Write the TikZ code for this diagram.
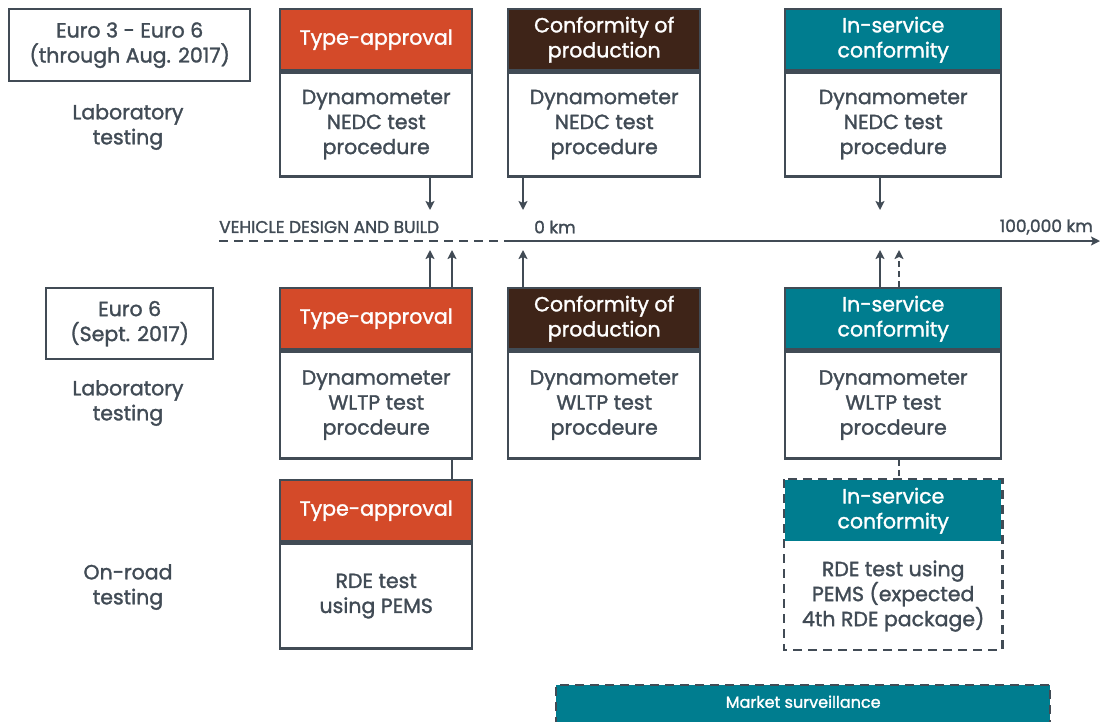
\documentclass[tikz,border=0pt]{standalone}
\usepackage{fontspec}
\setmainfont{Poppins}[FakeBold=1.5]
\usetikzlibrary{arrows.meta}

\definecolor{tacol}{RGB}{212,74,41}
\definecolor{copcol}{RGB}{62,36,24}
\definecolor{isccol}{RGB}{0,125,143}
\definecolor{inkgrey}{RGB}{65,75,85}

\begin{document}
\begin{tikzpicture}[x=1pt,y=-1pt,
            every node/.style={font=\fontsize{20.5}{25}\selectfont,text=inkgrey,align=center},
            arr/.style={draw=inkgrey,line width=1.8pt,-{Stealth[length=9pt,width=9pt,inset=2pt]}},
            dsh/.style={dash pattern=on 9pt off 6pt}]
            \tikzstyle{head}=[draw=inkgrey,line width=2.4pt,minimum height=61pt,text=white,inner sep=2pt]
            \tikzstyle{body}=[draw=inkgrey,line width=2.4pt,fill=white,minimum height=104pt,anchor=north,inner sep=2pt]
            \tikzstyle{era}=[draw=inkgrey,line width=2.4pt,anchor=north west]
            \tikzstyle{small}=[font=\fontsize{17}{19}\selectfont]
            \useasboundingbox (0,0) rectangle (1100,721);

            % row labels
            \node[era,minimum width=241pt,minimum height=72pt] (euro3) at (8,8) {Euro 3 - Euro 6\\(through Aug. 2017)};
            \node (lab1) at (128,127) {Laboratory\\testing};
            \node[era,minimum width=167pt,minimum height=71pt] (euro6) at (45,287) {Euro 6\\(Sept. 2017)};
            \node (lab2) at (128,403) {Laboratory\\testing};
            \node (road) at (128,587) {On-road\\testing};

            % NEDC row
            \node[head,fill=tacol,minimum width=192pt,anchor=north west] (tahead) at (279,8) {Type-approval};
            \node[body,minimum width=192pt] (tanedc) at (tahead.south) {Dynamometer\\NEDC test\\procedure};
            \node[head,fill=copcol,minimum width=192pt,anchor=north west] (cophead) at (507,8) {Conformity of\\production};
            \node[body,minimum width=192pt] (copnedc) at (cophead.south) {Dynamometer\\NEDC test\\procedure};
            \node[head,fill=isccol,minimum width=216pt,anchor=north west] (ischead) at (784,8) {In-service\\conformity};
            \node[body,minimum width=216pt] (iscnedc) at (ischead.south) {Dynamometer\\NEDC test\\procedure};

            % WLTP row
            \node[head,fill=tacol,minimum width=192pt,anchor=north west] (tahead2) at (279,287) {Type-approval};
            \node[body,minimum width=192pt,minimum height=107pt] (tawltp) at (tahead2.south) {Dynamometer\\WLTP test\\procdeure};
            \node[head,fill=copcol,minimum width=192pt,anchor=north west] (cophead2) at (507,287) {Conformity of\\production};
            \node[body,minimum width=192pt,minimum height=107pt] (copwltp) at (cophead2.south) {Dynamometer\\WLTP test\\procdeure};
            \node[head,fill=isccol,minimum width=216pt,anchor=north west] (ischead2) at (784,287) {In-service\\conformity};
            \node[body,minimum width=216pt,minimum height=107pt] (iscwltp) at (ischead2.south) {Dynamometer\\WLTP test\\procdeure};

            % RDE row
            \node[head,fill=tacol,minimum width=192pt,anchor=north west] (tahead3) at (279,479) {Type-approval};
            \node[body,minimum width=192pt,minimum height=105pt] (tarde) at (tahead3.south) {RDE test\\using PEMS};
            \node[head,draw=none,fill=isccol,minimum width=216pt,anchor=north west] (ischead3) at (784,479) {In-service\\conformity};
            \node[body,draw=none,minimum width=216pt,minimum height=105pt] (iscrde) at (ischead3.south) {RDE test using\\PEMS (expected\\4th RDE package)};
            \draw[inkgrey,line width=2.4pt,dsh] (ischead3.north west) rectangle (iscrde.south east);

            % timeline
            \coordinate (tstart) at (219,241);
            \coordinate (tzero) at (512,241);
            \coordinate (tend) at (1100,241);
            \draw[inkgrey,line width=1.8pt,dsh] (tstart) -- (tzero);
            \draw[arr] (tzero) -- (tend);
            \node[small,anchor=west,inner sep=0pt] (build) at (219,227) {VEHICLE DESIGN AND BUILD};
            \node[small,anchor=west,inner sep=0pt] (zerokm) at (534,227) {0 km};
            \node[small,anchor=east,inner sep=0pt] (maxkm) at (1093,227) {100,000 km};

            % arrows onto the timeline
            \coordinate (ta1) at (430,210);
            \coordinate (cop1) at (523,210);
            \coordinate (isc1) at (880,210);
            \coordinate (ta2) at (430,250);
            \coordinate (ta3) at (452,250);
            \coordinate (cop2) at (523,250);
            \coordinate (isc2) at (880,250);
            \coordinate (isc3) at (899,250);
            \draw[arr] (tanedc.south -| ta1) -- (ta1);
            \draw[arr] (copnedc.south -| cop1) -- (cop1);
            \draw[arr] (iscnedc.south -| isc1) -- (isc1);
            \draw[arr] (tahead2.north -| ta2) -- (ta2);
            \draw[arr] (tahead2.north -| ta3) -- (ta3);
            \draw[arr] (cophead2.north -| cop2) -- (cop2);
            \draw[arr] (ischead2.north -| isc2) -- (isc2);
            \draw[arr,dash pattern=on 6pt off 4pt] (ischead2.north -| isc3) -- (isc3);
            \draw[inkgrey,line width=1.8pt] (tawltp.south -| ta3) -- (tahead3.north -| ta3);
            \draw[inkgrey,line width=1.8pt,dash pattern=on 6pt off 4pt] (iscwltp.south -| isc3) -- (ischead3.north -| isc3);

            % market surveillance
            \node[draw=inkgrey,line width=2.4pt,dsh,fill=isccol,text=white,font=\fontsize{16}{18}\selectfont,
                  minimum width=494pt,minimum height=60pt,anchor=north west,text depth=27pt] (market) at (555,684) {Market surveillance};
        \end{tikzpicture}
\end{document}
